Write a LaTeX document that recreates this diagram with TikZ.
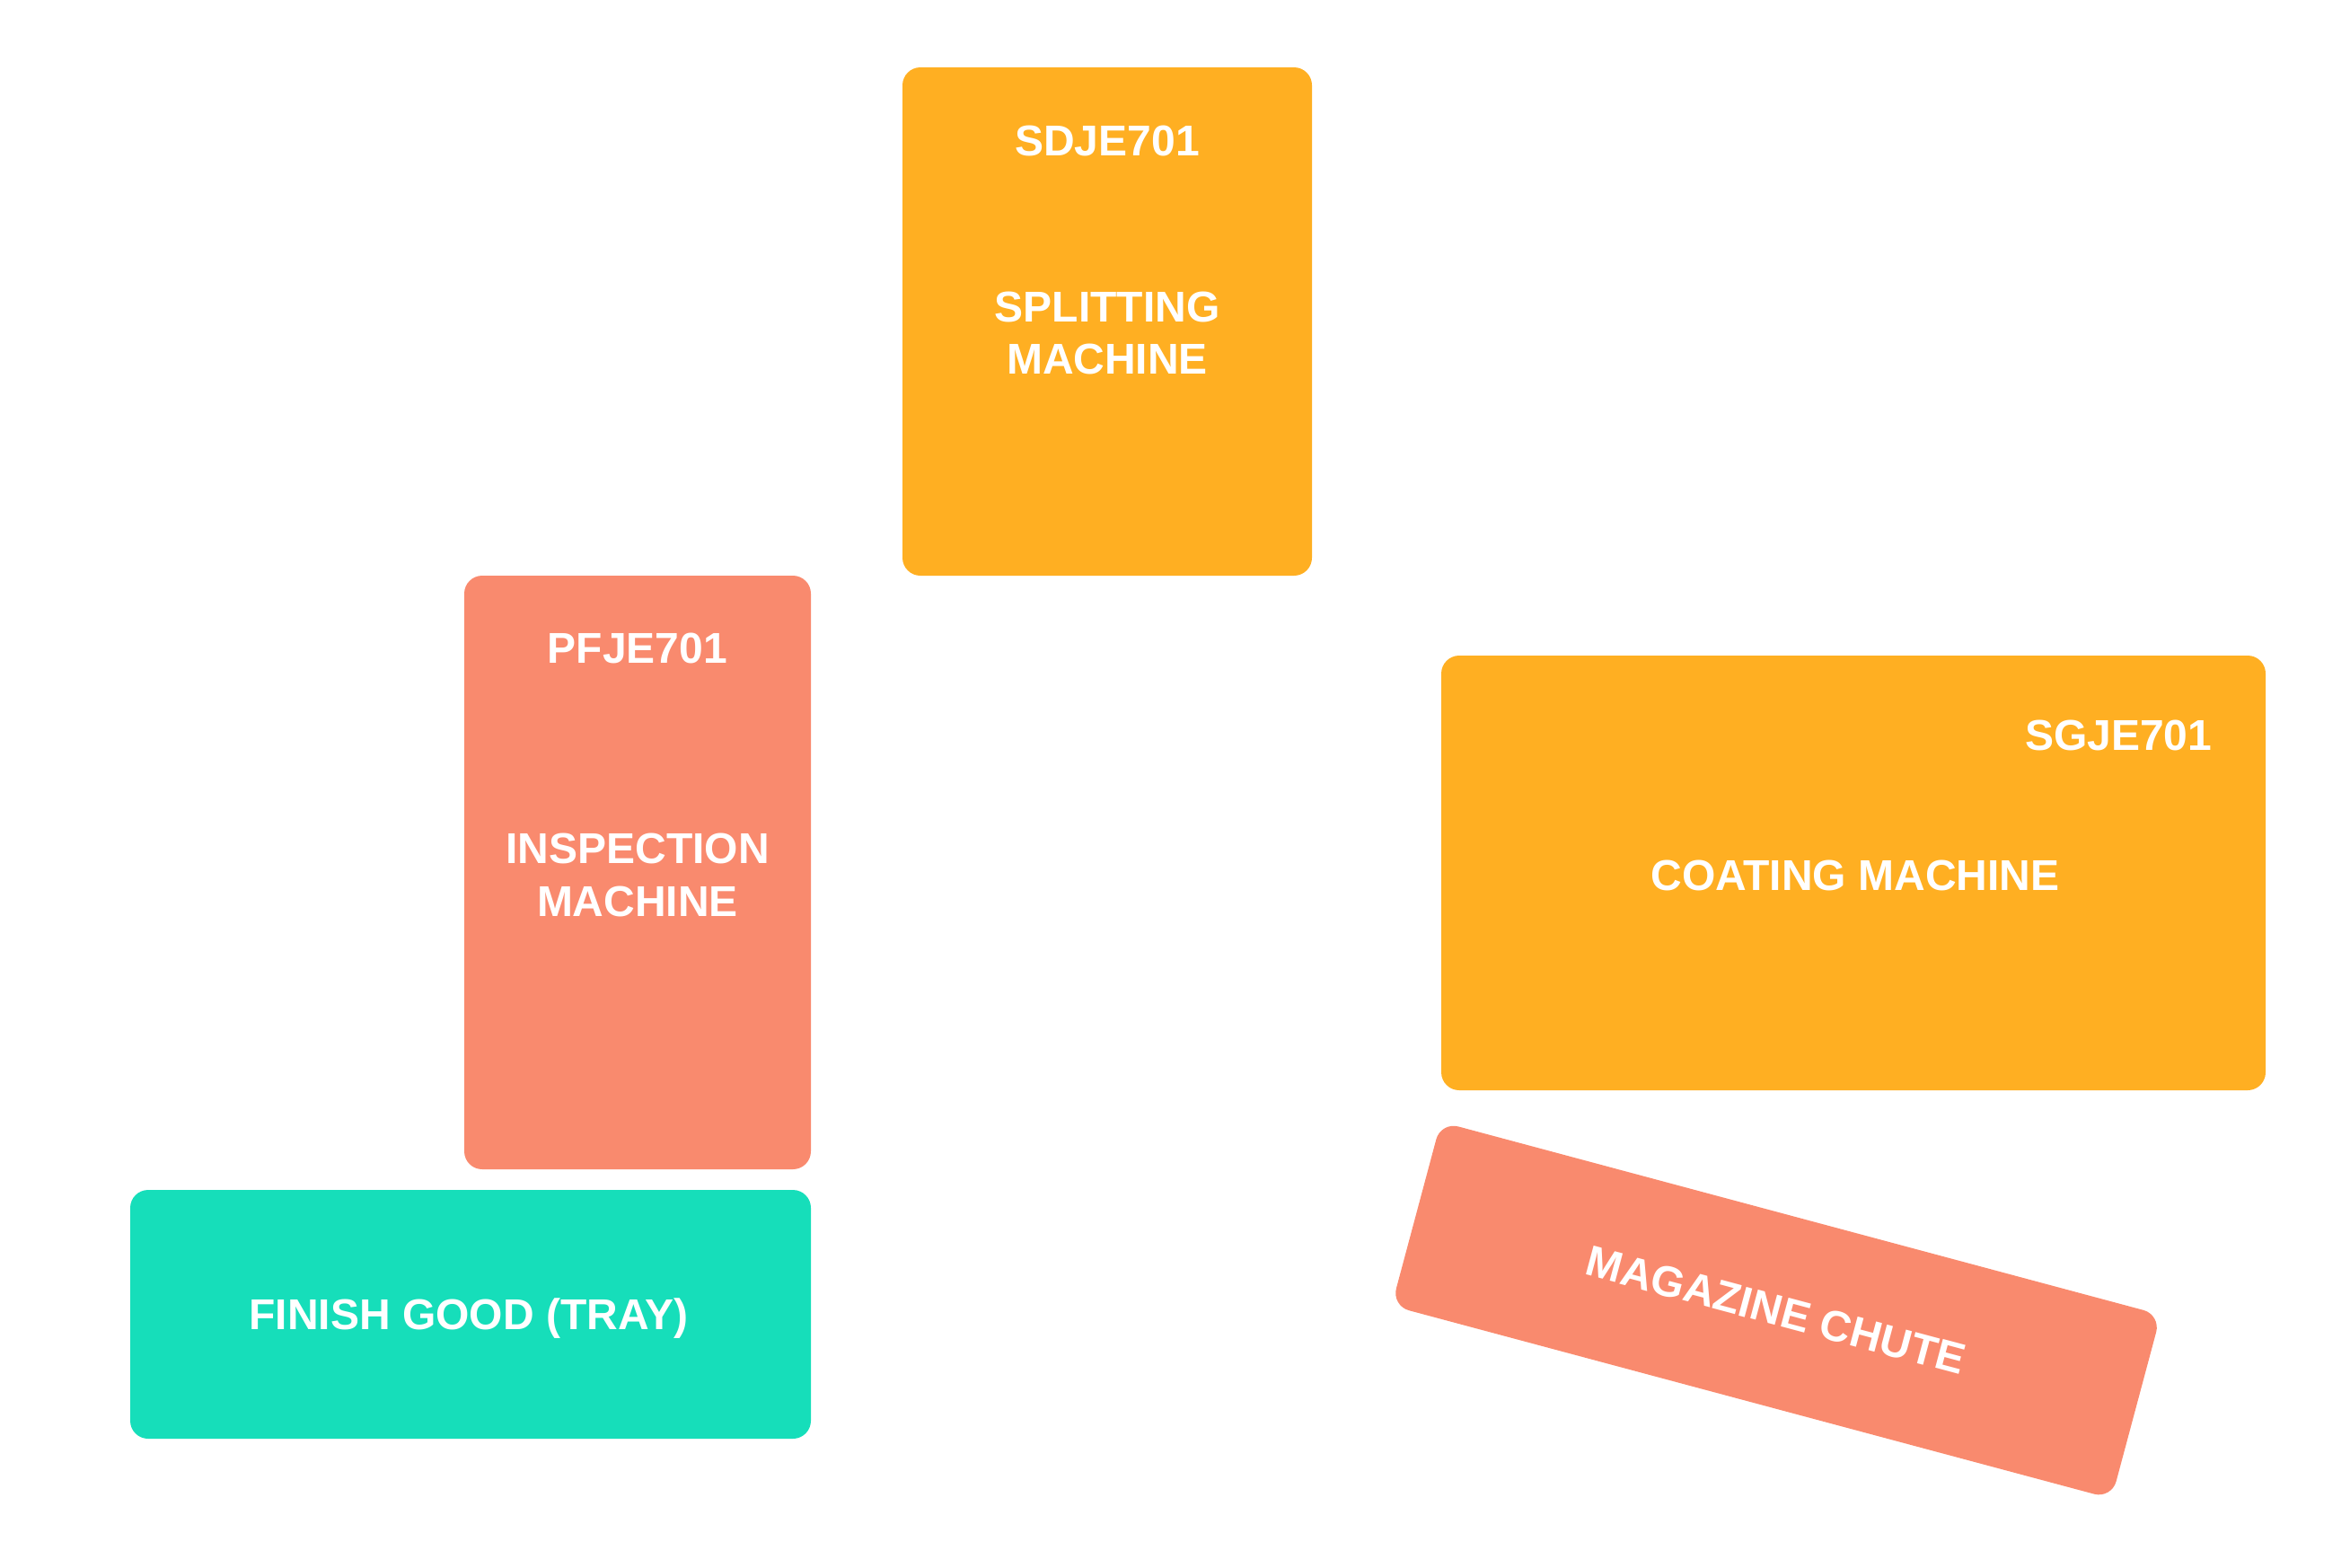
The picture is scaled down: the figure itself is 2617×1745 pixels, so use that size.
\documentclass[tikz,border=0pt]{standalone}
\usepackage{fontspec}
\setmainfont{Liberation Sans}
\newcommand\pxu{0.3pt}
\definecolor{boxorange}{HTML}{FFAF22}
\definecolor{boxsalmon}{HTML}{F98A6E}
\definecolor{boxteal}{HTML}{16DEBA}
\tikzset{
  box/.style={rectangle, rounded corners=6pt, inner sep=0pt, draw=none},
  lbl/.style={text=white, font=\bfseries\fontsize{14.4}{17.4}\selectfont, inner sep=0pt, anchor=base}
}
\begin{document}
\begin{tikzpicture}[x=0.3pt,y=-0.3pt]
\useasboundingbox (0,0) rectangle (2617,1745);
% boxes
\node[box, fill=boxorange, minimum width=456*\pxu, minimum height=566*\pxu] (split) at (1233,358) {};
\node[box, fill=boxsalmon, minimum width=386*\pxu, minimum height=661*\pxu] (insp) at (710,971.5) {};
\node[box, fill=boxteal, minimum width=758*\pxu, minimum height=277*\pxu] (finish) at (524,1463.5) {};
\node[box, fill=boxorange, minimum width=918*\pxu, minimum height=484*\pxu] (coat) at (2064,972) {};
\node[box, fill=boxsalmon, minimum width=830*\pxu, minimum height=212*\pxu, rotate=-15] (mag) at (1978,1459) {};
% labels
\node[lbl] (splitid) at (1233,173) {SDJE701};
\node[lbl] (splitn1) at (1233,358) {SPLITTING};
\node[lbl] (splitn2) at (1233,416) {MACHINE};
\node[lbl] (inspid) at (710,738) {PFJE701};
\node[lbl] (inspn1) at (710,961) {INSPECTION};
\node[lbl] (inspn2) at (710,1020) {MACHINE};
\node[lbl] (finishn) at (522,1480) {FINISH GOOD (TRAY)};
\node[lbl, anchor=base east] (coatid) at (2464,835) {SGJE701};
\node[lbl] (coatn) at (2066,991) {COATING MACHINE};
\node[lbl, anchor=center, rotate=-15] (magn) at (mag.center) {MAGAZINE CHUTE};
\end{tikzpicture}
\end{document}
